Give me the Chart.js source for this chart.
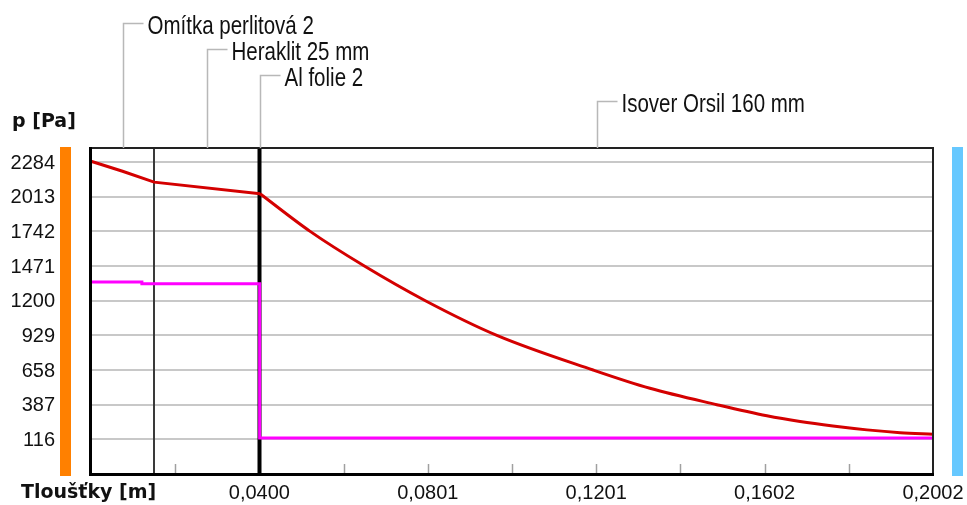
<!DOCTYPE html>
<html>
<head>
<meta charset="utf-8">
<title>Průběh tlaků</title>
<script src="https://cdn.jsdelivr.net/npm/chart.js@4/dist/chart.umd.min.js"></script>
<style>
  html, body { margin: 0; padding: 0; background: #fff; overflow: hidden; }
  #wrap { position: relative; width: 967px; height: 505px; }
</style>
</head>
<body>
<div id="wrap"><canvas id="chart"></canvas></div>
<script>
// layers (thickness bounds in m) and names
const layerNames = ['Omítka perlitová 2', 'Heraklit 25 mm', 'Al folie 2', 'Isover Orsil 160 mm'];
const layerBounds = [0, 0.015, 0.040, 0.0402, 0.2002];

// red curve - saturated pressure [Pa]; plaster + heraklit part (straight)
const redWallX = [0, 0.0075, 0.015, 0.0402];
const redWallY = [2290, 2212, 2127, 2036];
// red curve in the insulation (curved)
const redInsX = [0.0402, 0.0521, 0.0650, 0.0795, 0.0965, 0.1194, 0.1329, 0.1488, 0.1607, 0.1686, 0.1764, 0.1845, 0.1924, 0.2002];
const redInsY = [2036, 1742, 1471, 1200, 929, 658, 515, 387, 300, 255, 220, 190, 168, 155];

// magenta curve - partial pressure [Pa]
const magX = [0, 0.0121, 0.0121, 0.0401, 0.0401, 0.2002];
const magY = [1347, 1347, 1333, 1333, 127, 127];

// axes
const yTicks = [116, 387, 658, 929, 1200, 1471, 1742, 2013, 2284];
const yMin = -155, yMax = 2394;
const xTicks = [0.04004, 0.08008, 0.12012, 0.16016, 0.2002];
const xTickLabels = ['0,0400', '0,0801', '0,1201', '0,1602', '0,2002'];
const xMinorTicks = [0.02002, 0.04004, 0.06006, 0.08008, 0.1001, 0.12012, 0.14014, 0.16016, 0.18018];

const toPts = (xs, ys) => xs.map((x, i) => ({ x, y: ys[i] }));

// narrow caption text (condensed look of the original)
function narrowText(ctx, txt, x, y, sx){
  ctx.save();
  ctx.translate(x, y);
  ctx.scale(sx, 1);
  ctx.fillText(txt, 0, 0);
  ctx.restore();
}

const decor = {
  id: 'decor',
  beforeDatasetsDraw(chart){
    const { ctx, chartArea: a, scales: { x, y } } = chart;
    ctx.save();
    // horizontal grid
    ctx.strokeStyle = '#c8c8c8'; ctx.lineWidth = 2;
    yTicks.forEach(v => {
      const py = Math.round(y.getPixelForValue(v));
      ctx.beginPath(); ctx.moveTo(a.left, py); ctx.lineTo(a.right, py); ctx.stroke();
    });
    // minor ticks at the bottom
    ctx.strokeStyle = '#a0a0a0'; ctx.lineWidth = 1.5;
    xMinorTicks.forEach(v => {
      const px = Math.round(x.getPixelForValue(v)) + 0.5;
      ctx.beginPath(); ctx.moveTo(px, a.bottom); ctx.lineTo(px, a.bottom - 10); ctx.stroke();
    });
    // layer boundaries
    layerBounds.slice(1, -1).forEach((v, i) => {
      const px = Math.round(x.getPixelForValue(v));
      ctx.strokeStyle = i === 0 ? '#3a3a3a' : '#000';
      ctx.lineWidth = i === 0 ? 2 : 3;
      ctx.beginPath(); ctx.moveTo(px, a.top); ctx.lineTo(px, a.bottom); ctx.stroke();
    });
    ctx.restore();
  },
  afterDraw(chart){
    const { ctx, chartArea: a, scales: { x, y } } = chart;
    ctx.save();
    // frame
    ctx.strokeStyle = '#222'; ctx.lineWidth = 2;
    ctx.beginPath(); ctx.moveTo(a.left, a.top); ctx.lineTo(a.right, a.top); ctx.lineTo(a.right, a.bottom); ctx.stroke();
    ctx.strokeStyle = '#000'; ctx.lineWidth = 3;
    ctx.beginPath(); ctx.moveTo(a.left - 0.5, a.top - 1); ctx.lineTo(a.left - 0.5, a.bottom + 0.5); ctx.lineTo(a.right + 1, a.bottom + 0.5); ctx.stroke();

    // side bars
    ctx.fillStyle = '#ff8000';
    ctx.fillRect(60, a.top - 1, 11, a.bottom - a.top + 3);
    ctx.fillStyle = '#66c8ff';
    ctx.fillRect(952, a.top - 1, 11, a.bottom - a.top + 3);

    // y labels
    ctx.fillStyle = '#111';
    ctx.font = '20px "Liberation Sans", Arial, sans-serif';
    ctx.textAlign = 'right'; ctx.textBaseline = 'middle';
    yTicks.forEach(v => ctx.fillText(String(v), 55, y.getPixelForValue(v) + 1));
    // x labels
    ctx.textAlign = 'center';
    xTicks.forEach((v, i) => {
      let px = x.getPixelForValue(v);
      if (i === xTicks.length - 1) px = Math.min(px, 967 - 32);
      ctx.fillText(xTickLabels[i], px, 493);
    });

    // axis titles
    ctx.font = 'bold 19px "DejaVu Sans", Verdana, sans-serif';
    ctx.textAlign = 'left';
    ctx.fillText('p [Pa]', 12, 122);
    ctx.fillText('Tloušťky [m]', 21, 493);

    // layer captions with leaders
    ctx.font = '25px "Liberation Sans", Arial, sans-serif';
    ctx.textAlign = 'left'; ctx.textBaseline = 'alphabetic';
    layerNames.forEach((name, i) => {
      const px = Math.round(x.getPixelForValue((layerBounds[i] + layerBounds[i + 1]) / 2)) + 0.5;
      const ly = 23.5 + i * 26;
      ctx.strokeStyle = '#b8b8b8'; ctx.lineWidth = 1.5;
      ctx.beginPath(); ctx.moveTo(px, a.top); ctx.lineTo(px, ly); ctx.lineTo(px + 20, ly); ctx.stroke();
      ctx.fillStyle = '#111';
      narrowText(ctx, name, px + 24, ly + 10, 0.82);
    });
    ctx.restore();
  }
};

const redLine = { borderColor: '#d40000', borderWidth: 3, pointRadius: 0, clip: 4 };

new Chart(document.getElementById('chart'), {
  type: 'line',
  data: {
    datasets: [
      { ...redLine, label: 'p sat', data: toPts(redWallX, redWallY), tension: 0 },
      { ...redLine, label: 'p sat (izolace)', data: toPts(redInsX, redInsY), cubicInterpolationMode: 'monotone' },
      { label: 'p', data: toPts(magX, magY), borderColor: '#ff00ff', borderWidth: 3, pointRadius: 0, tension: 0, clip: 4 }
    ]
  },
  options: {
    responsive: true,
    maintainAspectRatio: false,
    animation: false,
    layout: { padding: { left: 91, right: 34, top: 148, bottom: 31 } },
    plugins: { legend: { display: false }, tooltip: { enabled: false } },
    scales: {
      x: { type: 'linear', min: 0, max: 0.2002, display: false },
      y: { type: 'linear', min: yMin, max: yMax, display: false }
    }
  },
  plugins: [decor]
});
</script>
</body>
</html>
